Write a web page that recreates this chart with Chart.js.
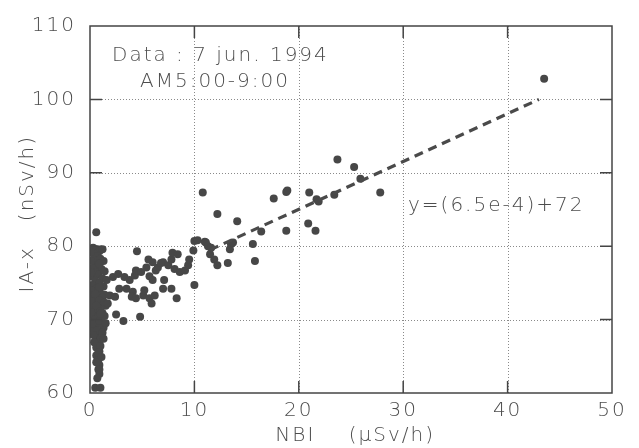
<!DOCTYPE html>
<html><head><meta charset="utf-8">
<script src="https://cdn.jsdelivr.net/npm/chart.js@4"></script>
<style>html,body{margin:0;padding:0;background:#fff}#wrap{width:639px;height:448px}</style>
</head><body><div id="wrap"><canvas id="c" width="639" height="448"></canvas></div>
<script>
// Axis ticks
const xTickValues = [0, 10, 20, 30, 40, 50];
const yTickValues = [60, 70, 80, 90, 100, 110];

// Scatter data: NBI (µSv/h) vs IA-x (nSv/h)
const nbiValues = [
  0.6,0.3,0.6,0.9,0.4,0.7,1.0,0.3,0.5,0.8,0.2,1.1,0.5,0.8,0.2,1.2,0.5,0.9,0.2,1.3,0.6,0.3,1.0,1.4,0.2,0.7,0.4,1.1,0.2,0.8,1.5,0.5,1.2,0.2,0.8,0.4,1.1,0.6,1.3,0.3,0.9,0.5,1.0,0.7,0.6,0.9,0.6,0.8,0.9,0.8,0.9,0.5,1.0,
  0.1,1.2,0.1,1.3,0.9,0.1,1.4,0.9,0.1,1.2,0.5,0.9,0.1,1.4,0.6,1.0,0.1,1.4,0.5,1.0,0.2,0.9,1.5,0.7,1.2,0.3,1.3,0.4,1.0,0.8,1.1,0.6,0.9,0.7,
  1.6,2.2,2.7,3.3,3.8,4.3,4.4,4.9,5.4,5.6,6.0,6.3,6.5,7.0,7.5,7.8,7.9,8.4,8.1,8.6,9.1,9.4,9.5,9.9,10.0,10.0,4.5,5.7,6.8,
  1.7,1.9,2.4,2.8,3.5,4.1,4.0,4.4,5.1,5.2,5.7,5.9,6.2,6.0,7.1,7.0,7.8,8.3,
  2.5,3.2,4.8,
  10.3,11.0,11.1,11.3,11.6,11.5,11.9,12.2,13.2,13.4,13.5,13.7,
  10.8,12.2,14.1,15.6,15.8,16.4,17.6,18.8,18.9,18.8,21.0,20.9,21.6,21.7,21.9,23.4,23.7,25.3,25.9,27.8,43.5
];
const iaxValues = [
  81.9,79.8,79.6,79.3,79.0,78.6,78.3,78.2,77.7,77.3,77.0,76.9,76.5,76.1,75.9,75.6,75.3,75.0,74.7,74.5,74.2,73.8,73.6,73.4,73.1,72.9,72.4,72.2,71.8,71.6,71.9,71.2,70.9,70.6,70.3,69.9,69.6,69.2,68.9,68.7,68.3,67.8,67.3,66.8,66.2,65.7,65.1,64.5,63.8,63.2,62.6,60.7,60.7,
  79.2,79.6,78.0,78.0,77.6,76.4,76.6,74.4,74.0,73.0,73.5,72.6,72.5,72.3,71.9,71.1,71.0,70.5,70.0,70.8,69.4,69.8,69.5,68.5,68.2,67.9,67.4,66.9,66.4,65.5,64.9,64.2,63.2,62.0,
  75.4,75.8,76.2,75.8,75.4,76.0,76.7,76.5,77.1,78.2,77.8,76.7,77.1,77.8,77.4,78.2,79.1,78.9,76.9,76.5,76.7,77.4,78.2,79.4,80.7,74.7,79.3,75.9,77.7,
  72.2,73.3,73.1,74.2,74.2,73.8,73.1,72.9,73.3,74.0,72.9,72.2,73.3,75.4,75.4,74.2,74.2,72.9,
  70.7,69.8,70.4,
  80.8,80.6,80.5,80.0,79.8,78.9,78.2,77.4,77.7,79.6,80.3,80.5,
  87.3,84.4,83.4,80.3,78.0,82.0,86.5,87.4,87.6,82.1,87.3,83.1,82.1,86.4,86.1,87.0,91.8,90.8,89.2,87.3,102.8
];

// Fitted line end points
const fitX = [11.5, 43.0];
const fitY = [79.5, 100.0];

// Text labels
const noteLines = ['Data : 7 jun. 1994', 'AM5:00-9:00'];
const fitLabel = 'y=(6.5e-4)+72';
const xTitle = ' NBI    (\u03BCSv/h)';
const yTitle = 'IA-x   (nSv/h) ';

const FONT = '"DejaVu Sans", "Liberation Sans", sans-serif';
const TXT = '#4d4d4d';

const scatterPts = nbiValues.map((x, i) => ({x: x, y: iaxValues[i]}));
const fitPts = fitX.map((x, i) => ({x: x, y: fitY[i]}));

const framePlugin = {
  id: 'frame',
  beforeDraw(chart) { chart.ctx.letterSpacing = '2px'; },
  beforeDatasetsDraw(chart) {
    const {ctx, chartArea: a, scales: {x, y}} = chart;
    ctx.save();
    ctx.letterSpacing = '0px';
    ctx.strokeStyle = '#8a8a8a';
    ctx.lineWidth = 1;
    ctx.setLineDash([1, 2]);
    ctx.beginPath();
    xTickValues.slice(1, -1).forEach(v => { const p = Math.round(x.getPixelForValue(v)) + 0.5; ctx.moveTo(p, a.top); ctx.lineTo(p, a.bottom); });
    yTickValues.slice(1, -1).forEach(v => { const p = Math.round(y.getPixelForValue(v)) + 0.5; ctx.moveTo(a.left, p); ctx.lineTo(a.right, p); });
    ctx.stroke();
    ctx.restore();
  },
  afterDatasetsDraw(chart) {
    const {ctx, chartArea: a, scales: {x, y}} = chart;
    ctx.save();
    ctx.strokeStyle = '#444';
    ctx.lineWidth = 1.5;
    ctx.setLineDash([]);
    ctx.strokeRect(a.left, a.top, a.right - a.left, a.bottom - a.top);
    const L = 12;
    ctx.beginPath();
    xTickValues.slice(1, -1).forEach(v => { const p = x.getPixelForValue(v); ctx.moveTo(p, a.bottom); ctx.lineTo(p, a.bottom - L); ctx.moveTo(p, a.top); ctx.lineTo(p, a.top + L); });
    yTickValues.slice(1, -1).forEach(v => { const p = y.getPixelForValue(v); ctx.moveTo(a.left, p); ctx.lineTo(a.left + L, p); ctx.moveTo(a.right, p); ctx.lineTo(a.right - L, p); });
    ctx.stroke();
    // annotations
    ctx.letterSpacing = '2px';
    ctx.fillStyle = TXT;
    ctx.font = '200 20px ' + FONT;
    ctx.textAlign = 'left';
    ctx.textBaseline = 'middle';
    ctx.fillText(noteLines[0], a.left + 22, a.top + 30);
    ctx.fillText(noteLines[1], a.left + 50, a.top + 56);
    ctx.fillText(fitLabel, a.left + 318, a.top + 180);
    ctx.restore();
  }
};

new Chart(document.getElementById('c'), {
  data: {
    datasets: [
      { type: 'scatter', data: scatterPts, backgroundColor: '#474747', borderWidth: 0, pointRadius: 4, pointHoverRadius: 4, order: 2 },
      { type: 'line', data: fitPts, borderColor: '#4a4a4a', borderWidth: 3.2, borderDash: [9, 6], pointRadius: 0, fill: false, order: 1 }
    ]
  },
  options: {
    responsive: false,
    animation: false,
    devicePixelRatio: 1,
    layout: { padding: { top: 20, right: 27, left: 0, bottom: 0 } },
    plugins: { legend: { display: false }, tooltip: { enabled: false } },
    scales: {
      x: {
        type: 'linear', position: 'bottom', min: 0, max: 50,
        afterBuildTicks(s) { s.ticks = xTickValues.map(v => ({value: v})); },
        afterFit(s) { s.height = 55; },
        grid: { display: false, drawTicks: false },
        border: { display: false },
        ticks: { padding: 6, color: TXT, font: { family: FONT, size: 20, weight: '200' }, maxRotation: 0 },
        title: { display: true, text: xTitle, color: TXT, font: { family: FONT, size: 20, weight: '200' }, padding: { top: 0, bottom: 0 } }
      },
      y: {
        type: 'linear', position: 'left', min: 60, max: 110,
        afterBuildTicks(s) { s.ticks = yTickValues.map(v => ({value: v})); },
        afterFit(s) { s.width = 90; },
        grid: { display: false, drawTicks: false },
        border: { display: false },
        ticks: { padding: 14, color: TXT, font: { family: FONT, size: 20, weight: '200' } },
        title: { display: true, text: yTitle, color: TXT, font: { family: FONT, size: 20, weight: '200' }, padding: { top: 16, bottom: 0 } }
      }
    }
  },
  plugins: [framePlugin]
});
</script>
</body></html>
